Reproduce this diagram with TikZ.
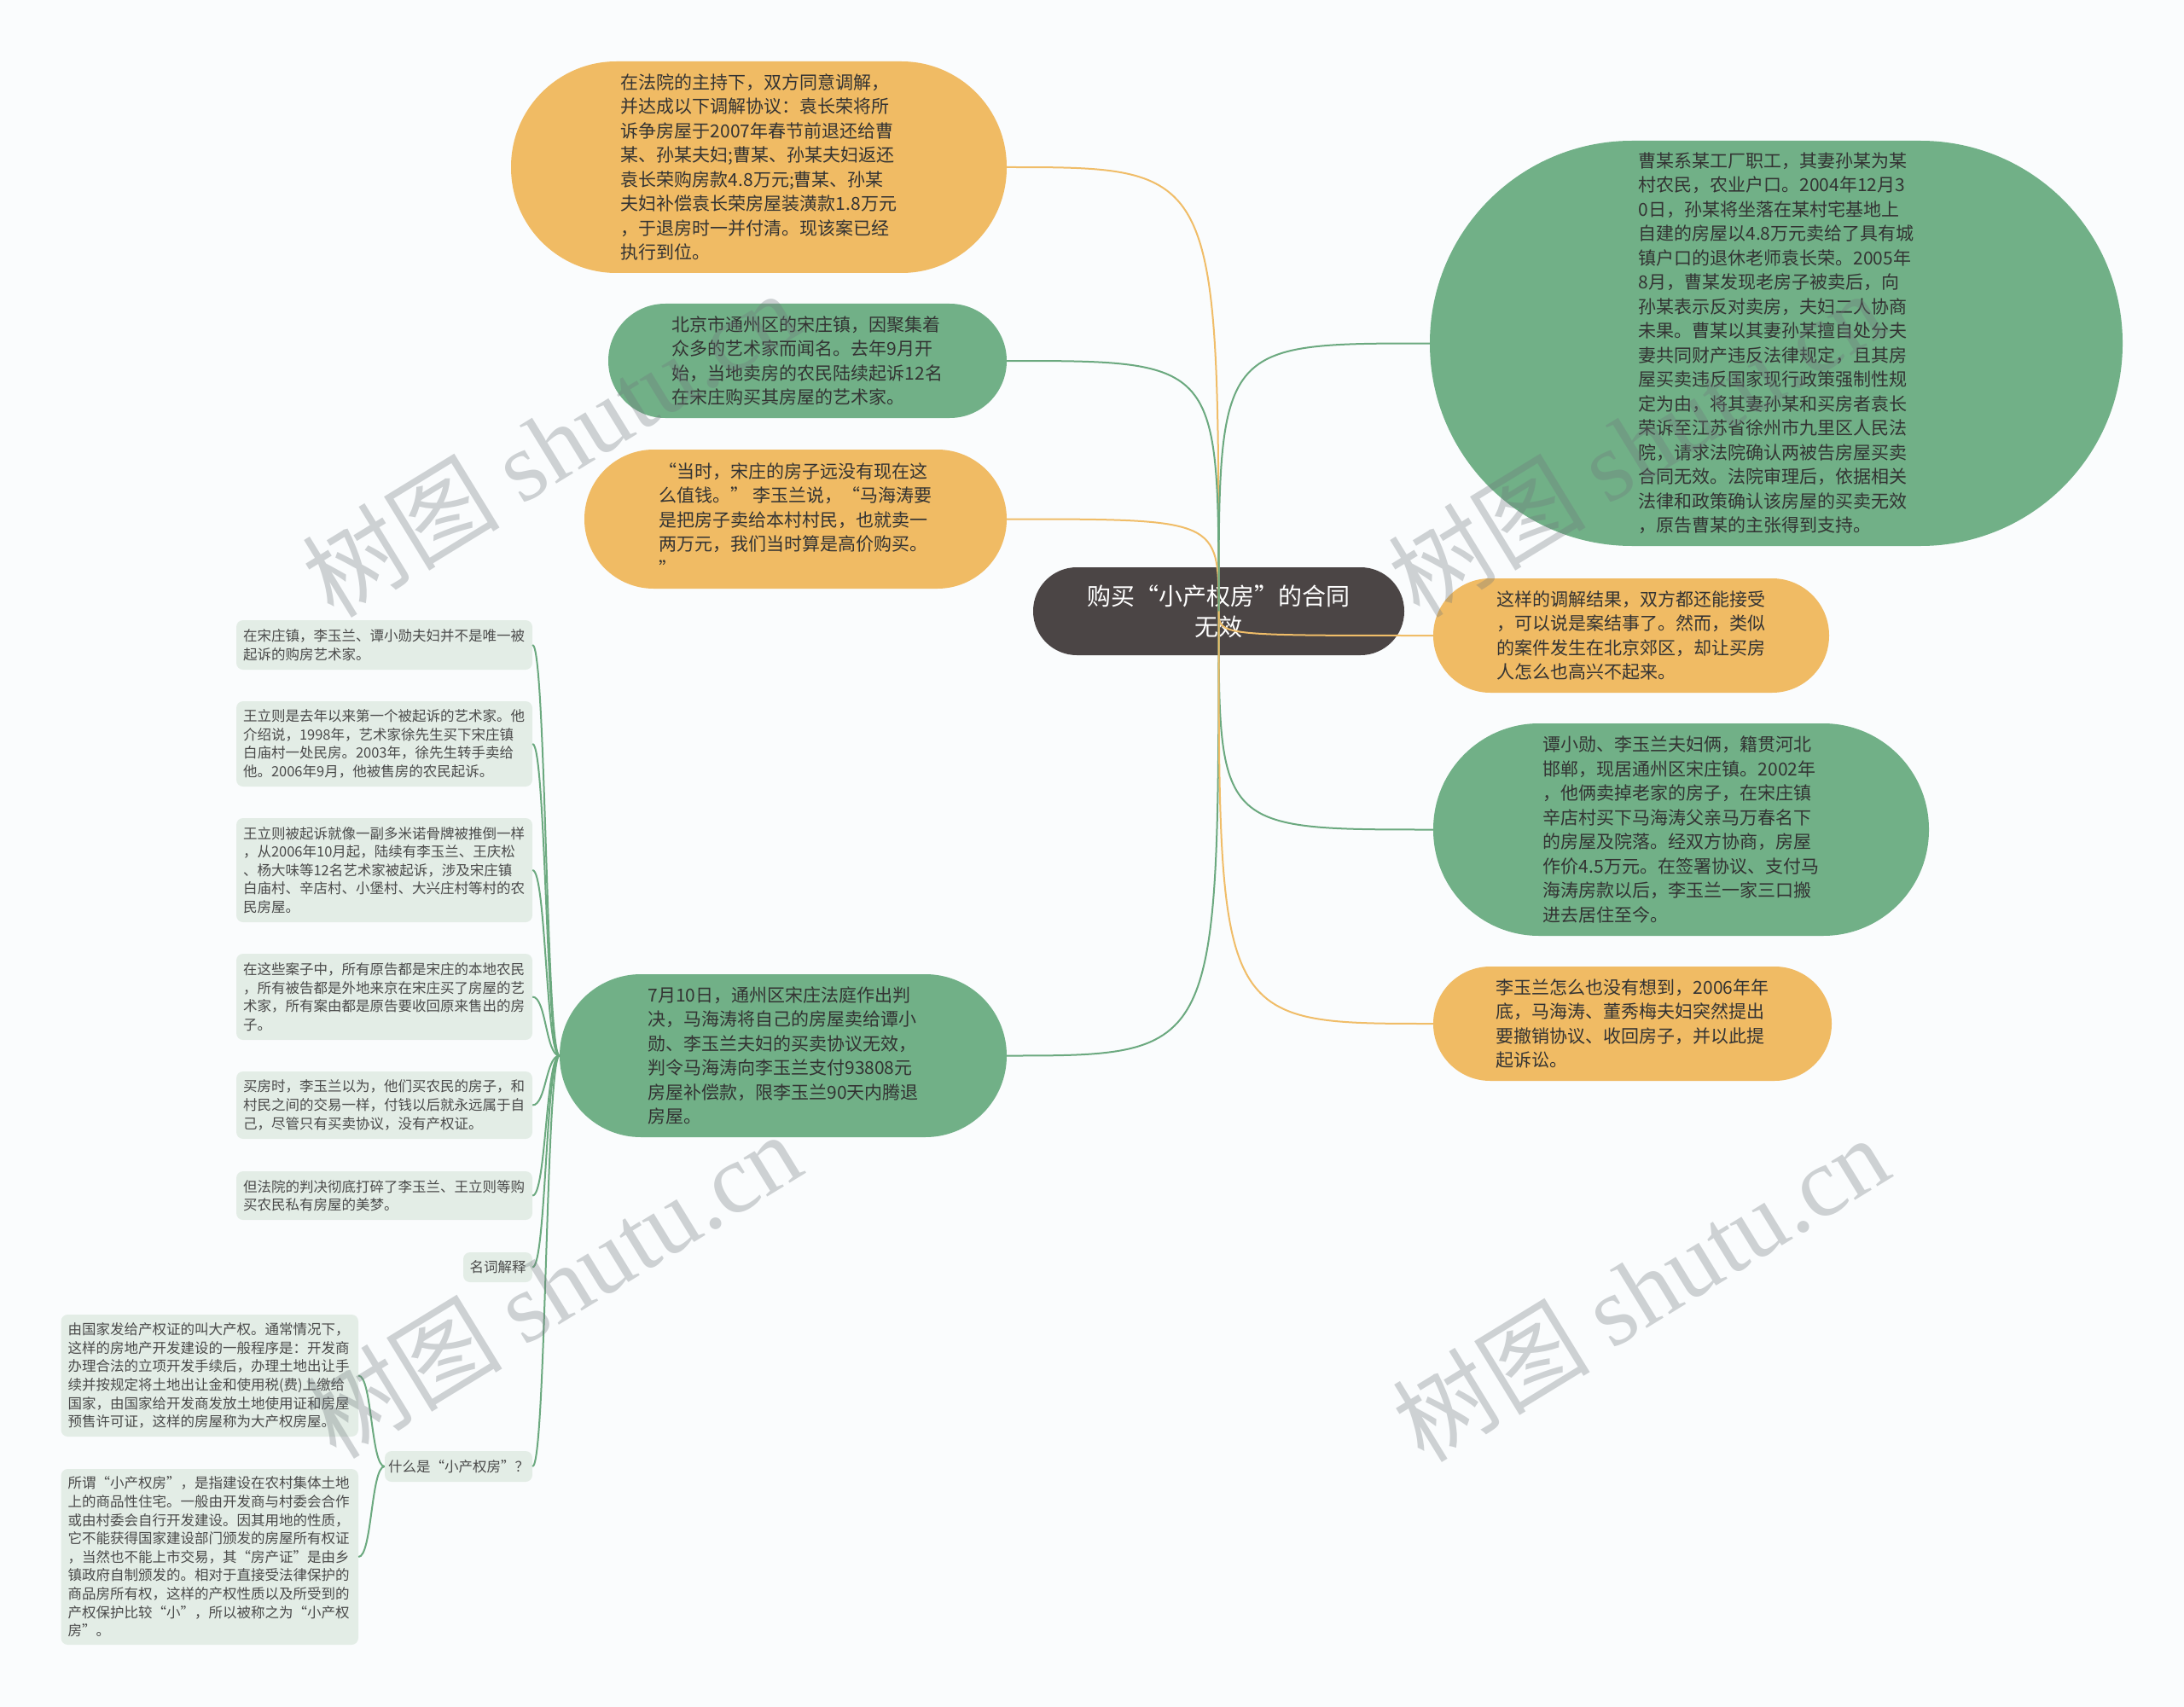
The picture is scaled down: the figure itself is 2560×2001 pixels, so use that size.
\documentclass[tikz,border=0pt]{standalone}
\usepackage{fontspec}
\setmainfont{Noto Sans CJK SC}
\newfontfamily\wmlatin{Liberation Serif}
\definecolor{bgc}{HTML}{FAFCFD}
\definecolor{orangef}{HTML}{F0BB64}
\definecolor{greenf}{HTML}{71B087}
\definecolor{rootf}{HTML}{4B4545}
\definecolor{orangel}{HTML}{F0BD68}
\definecolor{greenl}{HTML}{6BA97F}
\definecolor{leaff}{HTML}{E3EDE6}
\definecolor{leaft}{HTML}{4A4A4A}
\definecolor{bubt}{HTML}{333333}
\definecolor{wmc}{HTML}{6F777C}
\begin{document}
\begin{tikzpicture}[x=1pt,y=-1pt,
  bub/.style={rectangle, inner sep=0pt, align=left, text=bubt,
    font=\fontsize{21}{28.5}\selectfont},
  obub/.style={bub, fill=orangef},
  gbub/.style={bub, fill=greenf},
  rootbox/.style={rectangle, inner sep=0pt, align=center, fill=rootf, text=white,
    font=\fontsize{28}{36}\selectfont, minimum width=435pt, minimum height=103pt,
    rounded corners=51.3pt},
  leaf/.style={rectangle, fill=leaff, text=leaft, rounded corners=8pt,
    inner xsep=8pt, inner ysep=0pt, align=left,
    font=\fontsize{16.5}{21.6}\selectfont},
  oline/.style={draw=orangel, line width=2pt},
  gline/.style={draw=greenl, line width=2pt},
  lline/.style={draw=greenl, line width=2pt},
  wm/.style={text=wmc, text opacity=0.32, rotate=31.5, inner sep=0pt,
    font=\fontsize{116}{116}\selectfont}
]
\useasboundingbox[fill=bgc] (0,0) rectangle (2560,2001);

% root
\node[rootbox] (root) at (1428.5,716.5) {购买“小产权房”的合同\\无效};

% left bubbles
\node[obub, minimum width=581pt, minimum height=248pt, rounded corners=123.5pt] (A) at (889.5,196) {在法院的主持下，双方同意调解，\\并达成以下调解协议：袁长荣将所\\诉争房屋于2007年春节前退还给曹\\某、孙某夫妇;曹某、孙某夫妇返还\\袁长荣购房款4.8万元;曹某、孙某\\夫妇补偿袁长荣房屋装潢款1.8万元\\，于退房时一并付清。现该案已经\\执行到位。};
\node[gbub, minimum width=467pt, minimum height=134pt, rounded corners=66.8pt] (B) at (946.5,423) {北京市通州区的宋庄镇，因聚集着\\众多的艺术家而闻名。去年9月开\\始，当地卖房的农民陆续起诉12名\\在宋庄购买其房屋的艺术家。};
\node[obub, minimum width=495pt, minimum height=163pt, rounded corners=81.3pt] (C) at (932.5,608.5) {“当时，宋庄的房子远没有现在这\\么值钱。” 李玉兰说，“马海涛要\\是把房子卖给本村村民，也就卖一\\两万元，我们当时算是高价购买。\\”};
\node[gbub, minimum width=524pt, minimum height=191pt, rounded corners=95.3pt] (H) at (918,1237.5) {7月10日，通州区宋庄法庭作出判\\决，马海涛将自己的房屋卖给谭小\\勋、李玉兰夫妇的买卖协议无效，\\判令马海涛向李玉兰支付93808元\\房屋补偿款，限李玉兰90天内腾退\\房屋。};

% right bubbles
\node[gbub, minimum width=812pt, minimum height=475pt, rounded corners=237pt] (D) at (2082,402.5) {曹某系某工厂职工，其妻孙某为某\\村农民，农业户口。2004年12月3\\0日，孙某将坐落在某村宅基地上\\自建的房屋以4.8万元卖给了具有城\\镇户口的退休老师袁长荣。2005年\\8月，曹某发现老房子被卖后，向\\孙某表示反对卖房，夫妇二人协商\\未果。曹某以其妻孙某擅自处分夫\\妻共同财产违反法律规定，且其房\\屋买卖违反国家现行政策强制性规\\定为由，将其妻孙某和买房者袁长\\荣诉至江苏省徐州市九里区人民法\\院，请求法院确认两被告房屋买卖\\合同无效。法院审理后，依据相关\\法律和政策确认该房屋的买卖无效\\，原告曹某的主张得到支持。};
\node[obub, minimum width=464pt, minimum height=134pt, rounded corners=66.8pt] (E) at (1912,745) {这样的调解结果，双方都还能接受\\，可以说是案结事了。然而，类似\\的案件发生在北京郊区，却让买房\\人怎么也高兴不起来。};
\node[gbub, minimum width=581pt, minimum height=249pt, rounded corners=124pt] (F) at (1970.5,972.5) {谭小勋、李玉兰夫妇俩，籍贯河北\\邯郸，现居通州区宋庄镇。2002年\\，他俩卖掉老家的房子，在宋庄镇\\辛店村买下马海涛父亲马万春名下\\的房屋及院落。经双方协商，房屋\\作价4.5万元。在签署协议、支付马\\海涛房款以后，李玉兰一家三口搬\\进去居住至今。};
\node[obub, minimum width=467pt, minimum height=134pt, rounded corners=66.8pt] (G) at (1913.5,1200) {李玉兰怎么也没有想到，2006年年\\底，马海涛、董秀梅夫妇突然提出\\要撤销协议、收回房子，并以此提\\起诉讼。};

% leaves of H
\node[leaf, text width=331pt, minimum height=58pt] (L1) at (450.5,756) {在宋庄镇，李玉兰、谭小勋夫妇并不是唯一被\\起诉的购房艺术家。};
\node[leaf, text width=331pt, minimum height=100pt] (L2) at (450.5,872) {王立则是去年以来第一个被起诉的艺术家。他\\介绍说，1998年，艺术家徐先生买下宋庄镇\\白庙村一处民房。2003年，徐先生转手卖给\\他。2006年9月，他被售房的农民起诉。};
\node[leaf, text width=331pt, minimum height=122pt] (L3) at (450.5,1020) {王立则被起诉就像一副多米诺骨牌被推倒一样\\，从2006年10月起，陆续有李玉兰、王庆松\\、杨大味等12名艺术家被起诉，涉及宋庄镇\\白庙村、辛店村、小堡村、大兴庄村等村的农\\民房屋。};
\node[leaf, text width=331pt, minimum height=101pt] (L4) at (450.5,1168.5) {在这些案子中，所有原告都是宋庄的本地农民\\，所有被告都是外地来京在宋庄买了房屋的艺\\术家，所有案由都是原告要收回原来售出的房\\子。};
\node[leaf, text width=331pt, minimum height=79pt] (L5) at (450.5,1295.5) {买房时，李玉兰以为，他们买农民的房子，和\\村民之间的交易一样，付钱以后就永远属于自\\己，尽管只有买卖协议，没有产权证。};
\node[leaf, text width=331pt, minimum height=57pt] (L6) at (450.5,1401.5) {但法院的判决彻底打碎了李玉兰、王立则等购\\买农民私有房屋的美梦。};
\node[leaf, align=center, inner xsep=0pt, minimum width=81pt, minimum height=35pt] (L7) at (583.5,1485.5) {名词解释};
\node[leaf, align=center, inner xsep=0pt, minimum width=173pt, minimum height=36pt] (L8) at (537.5,1719) {什么是“小产权房”？};
\node[leaf, text width=332.5pt, minimum height=143pt] (L9) at (245.75,1612.5) {由国家发给产权证的叫大产权。通常情况下，\\这样的房地产开发建设的一般程序是：开发商\\办理合法的立项开发手续后，办理土地出让手\\续并按规定将土地出让金和使用税(费)上缴给\\国家，由国家给开发商发放土地使用证和房屋\\预售许可证，这样的房屋称为大产权房屋。};
\node[leaf, text width=332.5pt, minimum height=206pt] (L10) at (245.75,1825) {所谓“小产权房”，是指建设在农村集体土地\\上的商品性住宅。一般由开发商与村委会合作\\或由村委会自行开发建设。因其用地的性质，\\它不能获得国家建设部门颁发的房屋所有权证\\，当然也不能上市交易，其“房产证”是由乡\\镇政府自制颁发的。相对于直接受法律保护的\\商品房所有权，这样的产权性质以及所受到的\\产权保护比较“小”，所以被称之为“小产权\\房”。};

% root connectors
\draw[oline] (root.center) .. controls (root.center |- A.east) .. (A.east);
\draw[gline] (root.center) .. controls (root.center |- B.east) .. (B.east);
\draw[oline] (root.center) .. controls (root.center |- C.east) .. (C.east);
\draw[gline] (root.center) .. controls (root.center |- H.east) .. (H.east);
\draw[gline] (root.center) .. controls (root.center |- D.west) .. (D.west);
\draw[oline] (root.center) .. controls (root.center |- E.west) .. (E.west);
\draw[gline] (root.center) .. controls (root.center |- F.west) .. (F.west);
\draw[oline] (root.center) .. controls (root.center |- G.west) .. (G.west);

% leaf connectors
\foreach \n in {L1,L2,L3,L4,L5,L6,L7,L8}{
  \draw[lline] (H.west) .. controls +(-16,0) and +(16,0) .. (\n.east);
}
\draw[lline] (L8.west) .. controls +(-16,0) and +(16,0) .. (L9.east);
\draw[lline] (L8.west) .. controls +(-16,0) and +(16,0) .. (L10.east);

% watermarks
\node[wm] (wm1) at (645,520) {树图 {\wmlatin shutu.cn}};
\node[wm] (wm2) at (1918,520) {树图 {\wmlatin shutu.cn}};
\node[wm] (wm3) at (648,1506) {树图 {\wmlatin shutu.cn}};
\node[wm] (wm4) at (1923,1510) {树图 {\wmlatin shutu.cn}};
\end{tikzpicture}
\end{document}
